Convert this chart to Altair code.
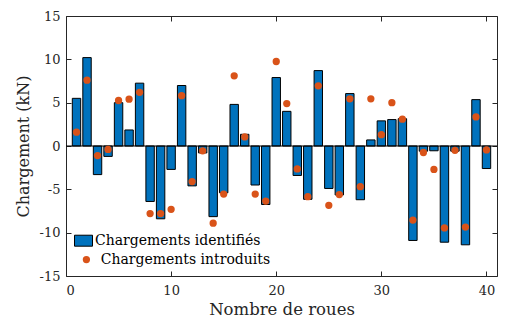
import altair as alt
import pandas as pd

roues = list(range(1, 41))
identifies = [5.5, 10.2, -3.3, -1.2, 5.0, 1.85, 7.25, -6.4, -8.4, -2.7,
              6.98, -4.6, -0.8, -8.15, -5.4, 4.8, 1.35, -4.5, -6.75, 7.9,
              4.0, -3.4, -6.15, 8.7, -4.9, -5.65, 6.05, -6.2, 0.7, 2.9,
              3.05, 3.15, -10.9, -0.6, -0.55, -11.1, -0.6, -11.4, 5.35, -2.6]
introduits = [1.6, 7.6, -1.1, -0.4, 5.25, 5.4, 6.2, -7.8, -7.8, -7.3,
              5.8, -4.1, -0.55, -8.9, -5.55, 8.1, 1.05, -5.55, -6.35, 9.75,
              4.9, -2.65, -5.85, 6.95, -6.85, -5.6, 5.45, -4.7, 5.45, 1.3,
              5.0, 3.1, -8.55, -0.75, -2.7, -9.45, -0.5, -9.35, 3.35, -0.45]
x_ticks = [0, 10, 20, 30, 40]
y_ticks = [-15, -10, -5, 0, 5, 10, 15]
zero_line = [0]

FONT = "DejaVu Serif"
AX = "#262626"
BLUE = "#0072BD"
ORANGE = "#D95319"

df = pd.DataFrame({"roue": roues, "ident": identifies, "intro": introduits,
                   "s1": "Chargements identifiés", "s2": "Chargements introduits"})
zdf = pd.DataFrame({"z": zero_line})

xs = alt.Scale(domain=[0, 41], nice=False, zero=False)
ys = alt.Scale(domain=[-15, 15], nice=False)

label_expr = "datum.value < 0 ? '-' + abs(datum.value) : '' + datum.value"

base_axis = dict(domain=False, grid=False, tickSize=5, offset=-5, tickColor=AX,
                 tickWidth=1, labelFont=FONT, labelColor=AX, labelFontSize=13,
                 titleFont=FONT, titleColor=AX, titleFontWeight="normal")

x_bottom = alt.Axis(values=x_ticks, labelPadding=8, title="Nombre de roues",
                    titlePadding=4, titleFontSize=16.5, labelExpr=label_expr, **base_axis)
y_left = alt.Axis(values=y_ticks, labelPadding=6, title="Chargement (kN)",
                  titlePadding=8, titleFontSize=16, labelExpr=label_expr, **base_axis)
x_top = alt.Axis(values=x_ticks, orient="top", labels=False, title="", **base_axis)
y_right = alt.Axis(values=y_ticks, orient="right", labels=False, title="", **base_axis)

bars = alt.Chart(df).transform_calculate(
    lo="datum.roue - 0.4", hi="datum.roue + 0.4"
).mark_bar(stroke="black", strokeWidth=1).encode(
    x=alt.X("lo:Q", scale=xs, axis=x_bottom),
    x2="hi:Q",
    y=alt.Y("ident:Q", scale=ys, axis=y_left),
    y2=alt.datum(0),
    fill=alt.Fill("s1:N", scale=alt.Scale(range=[BLUE]),
                  legend=alt.Legend(orient="none", legendX=8, legendY=215.2, title=None,
                                    symbolType="M-1,-0.61L1,-0.61L1,0.61L-1,0.61Z",
                                    symbolSize=324, symbolStrokeColor="black",
                                    symbolStrokeWidth=1, labelOffset=2, padding=0,
                                    labelFont=FONT, labelFontSize=14, labelColor="black",
                                    labelLimit=400)),
)

zero = alt.Chart(zdf).mark_rule(color="black", strokeWidth=1).encode(
    y=alt.Y("z:Q", scale=ys, axis=None)
)

points = alt.Chart(df).mark_circle(size=53, opacity=1).encode(
    x=alt.X("roue:Q", scale=xs, axis=x_top),
    y=alt.Y("intro:Q", scale=ys, axis=y_right),
    color=alt.Color("s2:N", scale=alt.Scale(range=[ORANGE]),
                    legend=alt.Legend(orient="none", legendX=13.4, legendY=236.6, title=None,
                                      symbolType="circle", symbolSize=53,
                                      symbolStrokeWidth=0, labelOffset=7.35, padding=0,
                                      labelFont=FONT, labelFontSize=14, labelColor="black",
                                      labelLimit=400)),
)

chart = alt.layer(bars, zero, points).resolve_axis(
    x="independent", y="independent"
).resolve_legend(fill="independent", color="independent").properties(
    width=431, height=260,
    autosize=alt.AutoSizeParams(type="none"),
    padding={"left": 58, "top": 8, "right": 1, "bottom": 44},
    background="white",
).configure_view(stroke=AX, strokeWidth=1)

chart.save("out.html", embed_options={"renderer": "svg", "actions": False})
